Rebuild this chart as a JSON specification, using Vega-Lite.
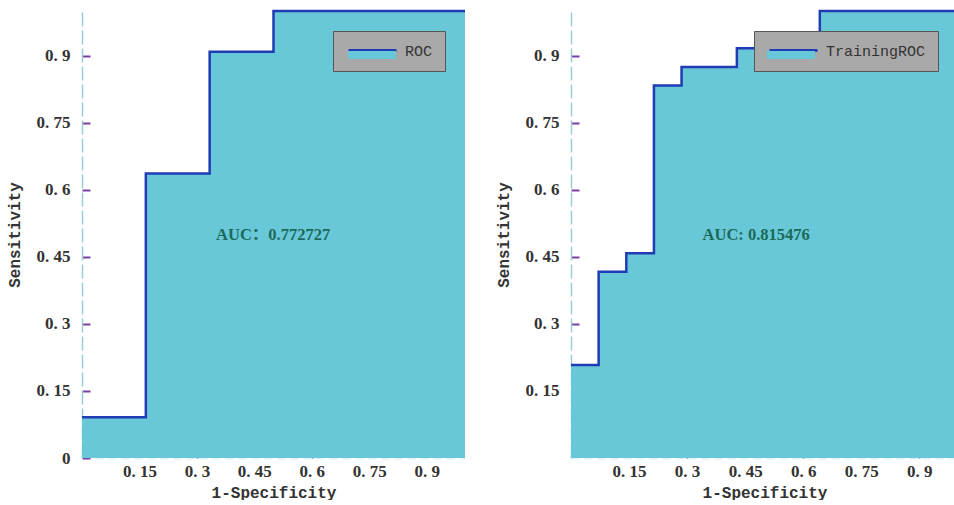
{
  "$schema": "https://vega.github.io/schema/vega-lite/v6.json",
  "background": "white",
  "padding": {"left": 6, "top": 6, "right": 0, "bottom": 0},
  "spacing": 25,
  "resolve": {"scale": {"fill": "independent", "stroke": "independent"}, "legend": {"fill": "independent", "stroke": "independent"}},
  "datasets": {
    "validation": [
      {"fpr": 0, "tpr": 0.0909, "curve": "ROC"},
      {"fpr": 0.1667, "tpr": 0.6364, "curve": "ROC"},
      {"fpr": 0.3333, "tpr": 0.9091, "curve": "ROC"},
      {"fpr": 0.5, "tpr": 1, "curve": "ROC"},
      {"fpr": 1, "tpr": 1, "curve": "ROC"}
    ],
    "training": [
      {"fpr": 0, "tpr": 0.2083, "curve": "TrainingROC"},
      {"fpr": 0.0714, "tpr": 0.4167, "curve": "TrainingROC"},
      {"fpr": 0.1429, "tpr": 0.4583, "curve": "TrainingROC"},
      {"fpr": 0.2143, "tpr": 0.8333, "curve": "TrainingROC"},
      {"fpr": 0.2857, "tpr": 0.875, "curve": "TrainingROC"},
      {"fpr": 0.4286, "tpr": 0.9167, "curve": "TrainingROC"},
      {"fpr": 0.6429, "tpr": 1, "curve": "TrainingROC"},
      {"fpr": 1, "tpr": 1, "curve": "TrainingROC"}
    ]
  },
  "config": {
    "view": {"stroke": null},
    "axis": {
      "grid": false,
      "zindex": 1,
      "tickSize": -8,
      "tickWidth": 2,
      "labelFlush": false,
      "labelFont": "Liberation Serif",
      "labelFontWeight": "bold",
      "labelFontSize": 17,
      "labelColor": "#333333",
      "titleFont": "Liberation Mono",
      "titleFontWeight": "bold",
      "titleFontSize": 16,
      "titleColor": "#333333",
      "labelExpr": "replace(format(datum.value, '.2~f'), '.', '. ')"
    },
    "axisX": {
      "tickColor": "#2a62d4",
      "domainColor": "#e2f3f5",
      "domainDash": [8, 5],
      "domainWidth": 2,
      "labelPadding": 13,
      "titlePadding": 5
    },
    "axisY": {
      "tickColor": "#7a3fa6",
      "domainColor": "#9ccdd4",
      "domainDash": [14, 4],
      "domainWidth": 1.5,
      "labelPadding": 20,
      "titlePadding": 14
    }
  },
  "hconcat": [
    {
      "width": 383,
      "height": 447,
      "data": {"name": "validation"},
      "layer": [
        {
          "mark": {"type": "area", "interpolate": "step-after", "opacity": 1},
          "encoding": {
            "x": {"field": "fpr", "type": "quantitative", "scale": {"domain": [0, 1], "nice": false}, "axis": {"values": [0.15, 0.3, 0.45, 0.6, 0.75, 0.9], "title": "1-Specificity"}},
            "y": {"field": "tpr", "type": "quantitative", "scale": {"domain": [0, 1], "nice": false}, "axis": {"values": [0, 0.15, 0.3, 0.45, 0.6, 0.75, 0.9], "title": "Sensitivity"}},
            "fill": {"field": "curve", "type": "nominal", "scale": {"range": ["#69c8d8"]},
              "legend": {"title": null, "orient": "none", "legendX": 286, "legendY": 40, "padding": 0, "symbolType": "M-6,-1H6V1H-6Z", "symbolSize": 64, "symbolStrokeWidth": 0, "symbolOpacity": 1, "labelOpacity": 0, "labelFontSize": 8, "labelExpr": "''", "zindex": 2}}
          }
        },
        {
          "mark": {"type": "line", "interpolate": "step-after", "strokeWidth": 2.5},
          "encoding": {
            "x": {"field": "fpr", "type": "quantitative"},
            "y": {"field": "tpr", "type": "quantitative"},
            "stroke": {"field": "curve", "type": "nominal", "scale": {"range": ["#1f3cb4"]},
              "legend": {"title": null, "orient": "top-right", "offset": 20, "fillColor": "#a9a9a9", "strokeColor": "#555555", "padding": 12, "symbolType": "M-6,0H6", "symbolSize": 64, "symbolStrokeWidth": 3, "symbolOffset": 20, "labelOffset": 25, "labelFont": "Liberation Mono", "labelFontSize": 15, "labelColor": "#333333", "zindex": 1}}
          }
        },
        {
          "data": {"values": [{"label": "AUC：0.772727"}]},
          "mark": {"type": "text", "align": "left", "baseline": "middle", "font": "'Liberation Serif', 'Noto Sans CJK SC'", "fontWeight": "bold", "fontSize": 16.5, "color": "#1a6a5a"},
          "encoding": {
            "x": {"datum": 0.35, "type": "quantitative"},
            "y": {"datum": 0.5, "type": "quantitative"},
            "text": {"field": "label"}
          }
        }
      ]
    },
    {
      "width": 387,
      "height": 447,
      "data": {"name": "training"},
      "layer": [
        {
          "mark": {"type": "area", "interpolate": "step-after", "opacity": 1},
          "encoding": {
            "x": {"field": "fpr", "type": "quantitative", "scale": {"domain": [0, 1], "nice": false}, "axis": {"values": [0.15, 0.3, 0.45, 0.6, 0.75, 0.9], "title": "1-Specificity"}},
            "y": {"field": "tpr", "type": "quantitative", "scale": {"domain": [0, 1], "nice": false}, "axis": {"values": [0.15, 0.3, 0.45, 0.6, 0.75, 0.9], "title": "Sensitivity"}},
            "fill": {"field": "curve", "type": "nominal", "scale": {"range": ["#69c8d8"]},
              "legend": {"title": null, "orient": "none", "legendX": 216, "legendY": 40, "padding": 0, "symbolType": "M-6,-1H6V1H-6Z", "symbolSize": 64, "symbolStrokeWidth": 0, "symbolOpacity": 1, "labelOpacity": 0, "labelFontSize": 8, "labelExpr": "''", "zindex": 2}}
          }
        },
        {
          "mark": {"type": "line", "interpolate": "step-after", "strokeWidth": 2.5},
          "encoding": {
            "x": {"field": "fpr", "type": "quantitative"},
            "y": {"field": "tpr", "type": "quantitative"},
            "stroke": {"field": "curve", "type": "nominal", "scale": {"range": ["#1f3cb4"]},
              "legend": {"title": null, "orient": "top-right", "offset": 20, "fillColor": "#a9a9a9", "strokeColor": "#555555", "padding": 12, "symbolType": "M-6,0H6", "symbolSize": 64, "symbolStrokeWidth": 3, "symbolOffset": 20, "labelOffset": 25, "labelFont": "Liberation Mono", "labelFontSize": 15, "labelColor": "#333333", "zindex": 1}}
          }
        },
        {
          "data": {"values": [{"label": "AUC: 0.815476"}]},
          "mark": {"type": "text", "align": "left", "baseline": "middle", "font": "'Liberation Serif', 'Noto Sans CJK SC'", "fontWeight": "bold", "fontSize": 16.5, "color": "#1a6a5a"},
          "encoding": {
            "x": {"datum": 0.34, "type": "quantitative"},
            "y": {"datum": 0.5, "type": "quantitative"},
            "text": {"field": "label"}
          }
        }
      ]
    }
  ]
}
